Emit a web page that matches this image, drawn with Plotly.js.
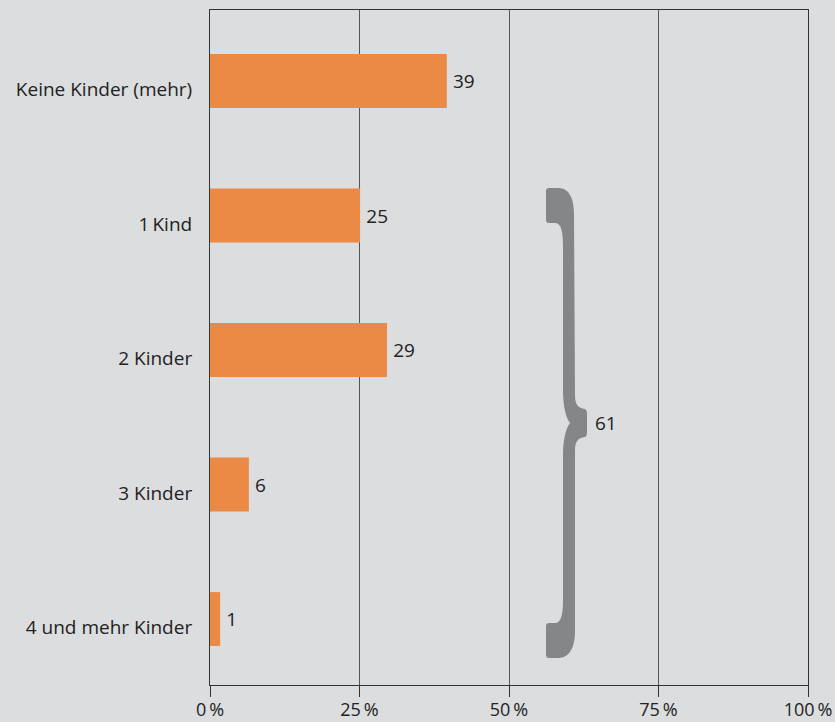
<!DOCTYPE html>
<html>
<head>
<meta charset="utf-8">
<script src="https://cdn.plot.ly/plotly-3.0.1.min.js"></script>
<style>
  html, body { margin: 0; padding: 0; background: #dcdddf; }
  #chart { width: 835px; height: 722px; }
</style>
</head>
<body>
<div id="chart"></div>
<script>
// ---- data ----
const categories = ['Keine Kinder (mehr)', '1\u2009Kind', '2 Kinder', '3 Kinder', '4 und mehr Kinder'];
const shares = [39.6, 25.1, 29.6, 6.5, 1.7];
const shareLabels = ['39', '25', '29', '6', '1'];
const braceLabel = '61';
const xTickVals = [0, 25, 50, 75, 100];
const xTickText = ['0\u2009%', '25\u2009%', '50\u2009%', '75\u2009%', '100\u2009%'];

// ---- layout geometry ----
const W = 835, H = 722;
const M = { l: 210, r: 27, t: 10, b: 37 };
const plotW = W - M.l - M.r, plotH = H - M.t - M.b;
const xRange = [0, 100];
const yTop = -0.528, yBottom = yTop + plotH / 134.5;

const idx = categories.map((_, i) => i);
const labelPos = idx.map(i => i + 0.065);   // category labels sit slightly below bar centres

// pixel -> data helpers for the brace decoration
const px2x = px => xRange[0] + (px - M.l) / plotW * (xRange[1] - xRange[0]);
const py2y = py => yTop + (py - M.t) / plotH * (yBottom - yTop);
const bracePx = 'M546,191 Q546,188 549,188 L558,188 C568,188 574,196 574,215 L575,395 ' +
  'C575,405 578,408 585,409 Q587,410 587,413 L587,433 Q587,436 585,437 ' +
  'C578,438 575,441 575,451 L575,631 C575,650 568,658 558,658 L549,658 Q546,658 546,655 ' +
  'L546,626 Q546,623 549,623 L555,623 C561,623 563,615 563,600 L563,455 ' +
  'C563,440 566,428 570,423 C566,418 563,406 563,391 L563,246 ' +
  'C563,231 561,223 555,223 L549,223 Q546,223 546,220 Z';
const bracePath = bracePx.replace(/(\d+\.?\d*),(\d+\.?\d*)/g,
  (m, a, b) => px2x(+a).toFixed(4) + ',' + py2y(+b).toFixed(4));

const font = "'Open Sans', 'Noto Sans', sans-serif";

const trace = {
  type: 'bar',
  orientation: 'h',
  x: shares,
  y: idx,
  width: 0.4,
  marker: { color: '#ea8a44', line: { width: 0 } },
  text: shareLabels.map(s => '\u2009' + s),
  textposition: 'outside',
  textfont: { family: font, size: 19, color: '#222' },
  cliponaxis: false,
  hoverinfo: 'skip'
};

const layout = {
  width: W, height: H,
  margin: M,
  paper_bgcolor: '#dcdddf',
  plot_bgcolor: '#dcdddf',
  showlegend: false,
  font: { family: font, color: '#222' },
  xaxis: {
    range: xRange,
    tickvals: xTickVals,
    ticktext: xTickText,
    ticks: 'outside', ticklen: 11, tickcolor: '#333', tickwidth: 1,
    ticklabelstandoff: -3,
    showgrid: true, gridcolor: '#555', gridwidth: 1,
    showline: true, linecolor: '#333', linewidth: 1, mirror: true,
    zeroline: false,
    tickfont: { family: font, size: 18, color: '#222' },
    fixedrange: true
  },
  yaxis: {
    range: [yBottom, yTop],
    tickvals: labelPos,
    ticktext: categories,
    ticks: '',
    showgrid: false,
    showline: true, linecolor: '#333', linewidth: 1, mirror: true,
    zeroline: false,
    ticklabelstandoff: 13,
    tickfont: { family: font, size: 19, color: '#222' },
    fixedrange: true
  },
  shapes: [{
    type: 'path', xref: 'x', yref: 'y',
    path: bracePath,
    fillcolor: '#858688',
    line: { width: 0 }
  }],
  annotations: [{
    xref: 'x', yref: 'y',
    x: px2x(593), y: py2y(423),
    text: braceLabel, showarrow: false,
    xanchor: 'left', yanchor: 'middle',
    font: { family: font, size: 19, color: '#222' }
  }]
};

Plotly.newPlot('chart', [trace], layout, { displayModeBar: false, staticPlot: true });
</script>
</body>
</html>
